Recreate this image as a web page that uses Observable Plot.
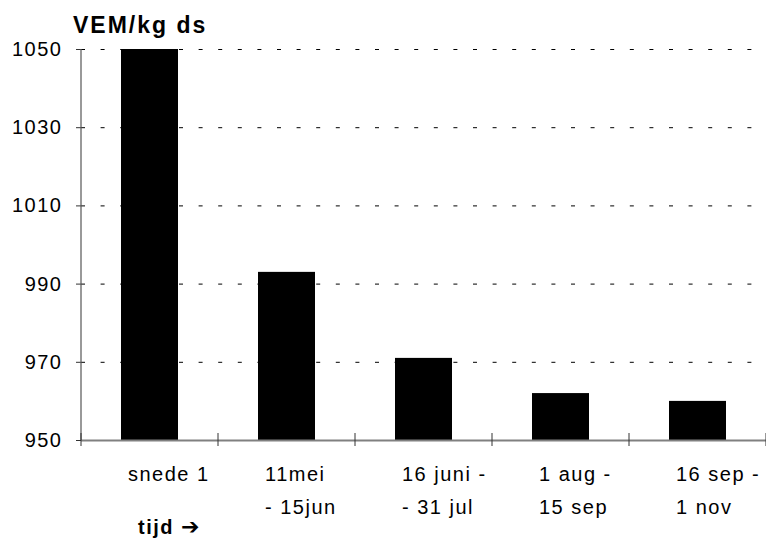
<!DOCTYPE html>
<html>
<head>
<meta charset="utf-8">
<script src="https://cdn.jsdelivr.net/npm/d3@7"></script>
<script src="https://cdn.jsdelivr.net/npm/@observablehq/plot@0.6"></script>
<style>
  html, body { margin: 0; padding: 0; background: #fff; }
  #chart { position: relative; width: 766px; height: 540px; }
</style>
</head>
<body>
<div id="chart"></div>
<script>
const categories = ["snede 1", "11mei - 15jun", "16 juni - 31 jul", "1 aug - 15 sep", "16 sep - 1 nov"];
const labels = ["snede 1", "11mei\n- 15jun", "16 juni -\n- 31 jul", "1 aug -\n15 sep", "16 sep -\n1 nov"];
const values = [1050, 993, 971, 962, 960];
const yTicks = [950, 970, 990, 1010, 1030, 1050];
const gridTicks = [970, 990, 1010, 1030, 1050];
const yDomain = [950, 1050];
const yTitle = "VEM/kg ds";
const xTitle = "tijd";
const xArrow = "\u2794";

const data = categories.map((c, i) => ({cat: c, label: labels[i], value: values[i]}));

const chart = Plot.plot({
  width: 766,
  height: 540,
  marginLeft: 81,
  marginRight: 0,
  marginTop: 49,
  marginBottom: 100,
  style: {fontFamily: "'Liberation Sans', Arial, sans-serif", fontSize: "20px", letterSpacing: "1.5px", color: "#000", background: "#fff"},
  x: {domain: categories, paddingInner: 0.583, paddingOuter: 0.2915, axis: null},
  y: {domain: yDomain, axis: null},
  marks: [
    Plot.gridY(gridTicks, {stroke: "#000", strokeOpacity: 1, strokeDasharray: "4,15.6"}),
    Plot.barY(data, {x: "cat", y1: yDomain[0], y2: "value", fill: "#000"}),
    Plot.axisY(yTicks, {tickSize: 5, tickPadding: 14, fontSize: 20, stroke: "#333", label: null, tickFormat: "d"}),
    Plot.ruleY([yDomain[0]], {stroke: "#808080", strokeWidth: 2}),
    Plot.text(data, {
      x: "cat", text: "label", frameAnchor: "bottom", lineAnchor: "top",
      textAnchor: "start", dx: -22, dy: 17, lineHeight: 1.65, fontSize: 20, fill: "#000"
    })
  ]
});

document.getElementById("chart").appendChild(chart);

// Axis line and band-boundary ticks from the library's own scales
const xs = chart.scale("x");
const ys = chart.scale("y");
const gap = (xs.step - xs.bandwidth) / 2;
const edges = categories.map(c => xs.apply(c) - gap);
edges.push(xs.apply(categories[categories.length - 1]) + xs.bandwidth + gap);
const y0 = ys.apply(yDomain[0]);
const yTop = ys.apply(yDomain[1]);
const svg = d3.select(chart);
svg.append("line")
  .attr("x1", edges[0]).attr("x2", edges[0])
  .attr("y1", yTop).attr("y2", y0)
  .attr("stroke", "#555").attr("stroke-width", 1.2);
svg.append("g").selectAll("line").data(edges).join("line")
  .attr("x1", d => d).attr("x2", d => d)
  .attr("y1", y0 - 7).attr("y2", y0 + 6)
  .attr("stroke", "#333").attr("stroke-width", 1);
svg.append("text")
  .attr("x", 73).attr("y", 33)
  .attr("text-anchor", "start")
  .attr("font-weight", "bold").attr("font-size", 23)
  .style("letter-spacing", "2px")
  .attr("fill", "#000")
  .text(yTitle);
const xt = svg.append("text")
  .attr("x", 138).attr("y", 534)
  .attr("text-anchor", "start")
  .attr("font-weight", "bold").attr("font-size", 20)
  .style("letter-spacing", "1.5px")
  .attr("fill", "#000");
xt.append("tspan").text(xTitle + " ");
xt.append("tspan").attr("font-size", 22).attr("font-family", "'DejaVu Sans', sans-serif").text(xArrow);
</script>
</body>
</html>
